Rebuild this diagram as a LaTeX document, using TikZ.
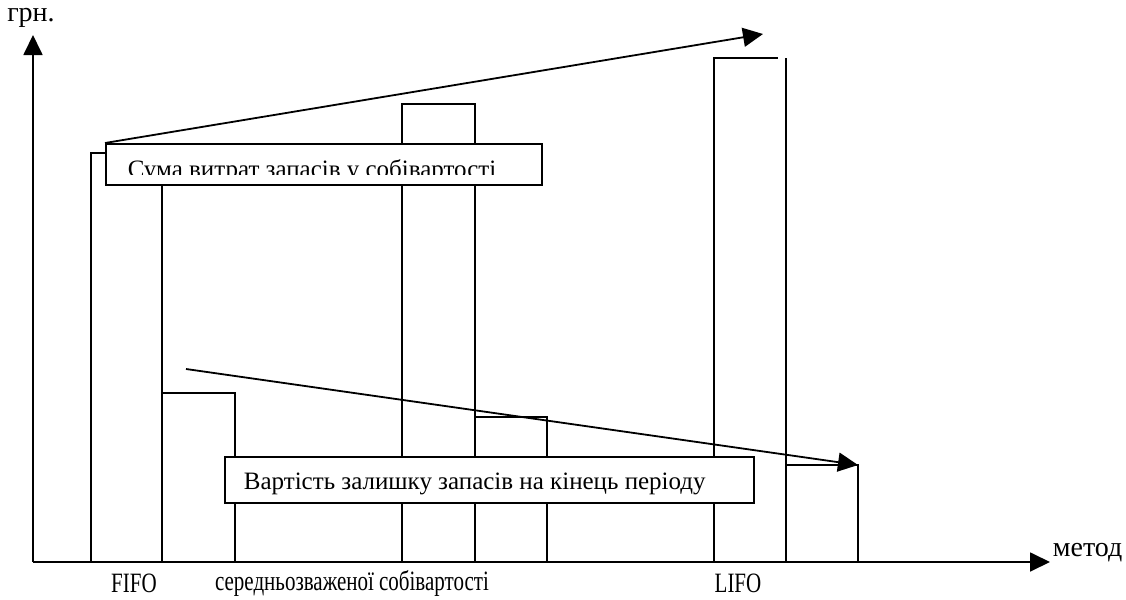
\documentclass[tikz,border=0pt]{standalone}
\usepackage{graphicx}
\usepackage{fontspec}
\setmainfont{Liberation Serif}
\usetikzlibrary{positioning,arrows.meta}

\newcommand{\vuzko}[1]{\scalebox{0.75}[1]{#1}}

\begin{document}
\begin{tikzpicture}[x=0.5pt, y=-0.5pt, line width=0.9pt,
    font=\fontsize{14}{16}\selectfont,
    pfeil/.style={-{Triangle[length=10pt,width=9.5pt]}},
    stovp/.style={draw, line width=0.9pt},
    rahmen/.style={draw, fill=white, inner sep=0pt, anchor=north west},
    rtext/.style={anchor=base west, inner sep=0pt, font=\fontsize{12.5}{14}\selectfont}]

    \useasboundingbox (0,0) rectangle (1126,600);

    % Осі
    \coordinate (O) at (33,562);
    \coordinate (ytop) at (33,35);
    \coordinate (xend) at (1050,562);
    \draw[pfeil] (O) -- (ytop);
    \draw[pfeil] (O) -- (xend);
    \node (grn) at (31,18) {грн.};
    \node (metod) [anchor=west, inner sep=1pt] at (1050,553) {метод};

    % Стовпці
    \draw[stovp] (91,562) |- (162,153) -- (162,562); % FIFO, витрати
    \draw[stovp] (162,562) |- (235,393) -- (235,562); % FIFO, залишок
    \draw[stovp] (402,562) |- (475,104) -- (475,562); % середня, витрати
    \draw[stovp] (475,562) |- (547,417) -- (547,562); % середня, залишок
    \draw[stovp] (714,562) |- (778,58); % LIFO, витрати
    \draw[stovp] (786,58) -- (786,562);
    \draw[stovp] (786,562) |- (858,465) -- (858,562); % LIFO, залишок

    % Підписи методів
    \node (fifo) at (134,583) {\vuzko{FIFO}};
    \node (serz) at (352,583) {\vuzko{середньозваженої собівартості}};
    \node (lifo) at (738,583) {\vuzko{LIFO}};

    % Рамки з текстом
    \node (sumbox) [rahmen, minimum width=218pt, minimum height=20.5pt] at (105,143) {};
    \begin{scope}
        \clip (105,143) rectangle (541,174);
        \node (sumtext) [rtext] at (127,177) {Сума витрат запасів у собівартості};
    \end{scope}
    \node (zalbox) [rahmen, minimum width=264.5pt, minimum height=23pt] at (224,456) {};
    \node (zaltext) [rtext] at (243,489) {Вартість залишку запасів на кінець періоду};

    % Напрямки зміни
    \coordinate (sumtip) at (763,34);
    \coordinate (zalstart) at (186,369);
    \coordinate (zaltip) at (858,465);
    \draw[pfeil] (sumbox.north west) -- (sumtip);
    \draw[pfeil] (zalstart) -- (zaltip);

\end{tikzpicture}
\end{document}
